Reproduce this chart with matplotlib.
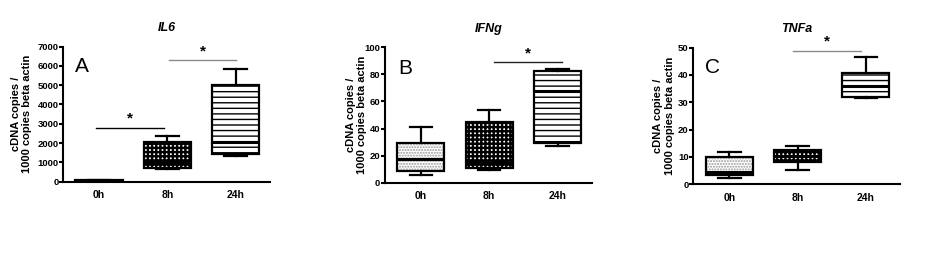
import matplotlib
matplotlib.use('Agg')
import matplotlib.pyplot as plt

plt.rcParams['font.family'] = ['Liberation Sans', 'DejaVu Sans']

groups = ['0h', '8h', '24h']
genes = ['IL6', 'IFNg', 'TNFa']
letters = ['A', 'B', 'C']

# box stats per gene: whisker low, q1, median, q3, whisker high (0h, 8h, 24h)
il6_low = [10, 650, 1330]
il6_q1 = [20, 700, 1430]
il6_med = [40, 1000, 2050]
il6_q3 = [70, 2040, 5000]
il6_high = [90, 2380, 5850]

ifng_low = [6, 9.5, 27]
ifng_q1 = [8.5, 11, 29.5]
ifng_med = [17.5, 15, 68]
ifng_q3 = [29.5, 45, 82.7]
ifng_high = [41, 54, 83.7]

tnfa_low = [2.2, 5.1, 31.5]
tnfa_q1 = [3.4, 8.1, 32]
tnfa_med = [4.6, 10.5, 36]
tnfa_q3 = [10, 12.6, 40.7]
tnfa_high = [11.9, 14, 46.7]

ymax = [7000, 100, 50]
ystep = [1000, 20, 10]

# significance bars: (x start, x end, y)
sig_A = [(0.95, 1.95, 2780), (2.03, 3.0, 6300)]
sig_B = [(2.07, 3.07, 89)]
sig_C = [(1.93, 2.93, 48.8)]
sig_colors = [['black', '#8a8a8a'], ['#222222'], ['#8a8a8a']]

data = [
    (il6_low, il6_q1, il6_med, il6_q3, il6_high),
    (ifng_low, ifng_q1, ifng_med, ifng_q3, ifng_high),
    (tnfa_low, tnfa_q1, tnfa_med, tnfa_q3, tnfa_high),
]
sigs = [sig_A, sig_B, sig_C]

fig = plt.figure(figsize=(9.26, 2.54), dpi=100)
rects = [
    [0.068, 0.2846, 0.2235, 0.532],
    [0.4156, 0.2807, 0.2234, 0.533],
    [0.7487, 0.2744, 0.2232, 0.538],
]
ylab_x = [-0.15, -0.085, -0.09]
letter_pos = [(0.058, 0.85), (0.067, 0.845), (0.057, 0.857)]

hatches = ['......', '++++', '---']
hatch_cols = ['#9a9a9a', 'black', 'black']
width = 0.69
pos = [1, 2, 3]

for i in range(3):
    ax = fig.add_axes(rects[i])
    low, q1, med, q3, high = data[i]
    stats = []
    for j in range(3):
        stats.append(dict(whislo=low[j], q1=q1[j], med=med[j], q3=q3[j],
                          whishi=high[j], fliers=[], label=groups[j]))
    # hatched fills
    for j in range(3):
        poly = ax.fill_between([pos[j] - width / 2, pos[j] + width / 2], q1[j], q3[j],
                               facecolor='white', edgecolor=hatch_cols[j],
                               hatch=hatches[j], linewidth=0, zorder=1)
        if hasattr(poly, 'set_hatch_linewidth'):
            poly.set_hatch_linewidth(1.7 if j == 1 else 1.0)
    ax.bxp(stats, positions=pos, widths=width, showfliers=False,
           capwidths=0.33, patch_artist=True,
           boxprops=dict(facecolor='none', edgecolor='black', linewidth=1.6),
           whiskerprops=dict(color='black', linewidth=1.6),
           capprops=dict(color='black', linewidth=1.6),
           medianprops=dict(color='black', linewidth=2.2),
           zorder=2)
    ax.set_xlim(0.473, 3.5)
    ax.set_ylim(0, ymax[i])
    ax.set_yticks(range(0, ymax[i] + 1, ystep[i]))
    ax.spines['top'].set_visible(False)
    ax.spines['right'].set_visible(False)
    ax.spines['left'].set_linewidth(1.5)
    ax.spines['bottom'].set_linewidth(1.5)
    ax.tick_params(axis='y', length=3, width=1.5, labelsize=6.8, pad=0.3)
    ax.tick_params(axis='x', length=0, labelsize=7.5, pad=6)
    for lab in ax.get_xticklabels() + ax.get_yticklabels():
        lab.set_fontweight('bold')
    ax.set_ylabel('cDNA copies /\n1000 copies beta actin', fontsize=8,
                  fontweight='bold', linespacing=1.15)
    ax.yaxis.set_label_coords(ylab_x[i], 0.5)
    ax.set_title(genes[i], fontsize=9, fontweight='bold', fontstyle='italic', pad=11)
    ax.text(letter_pos[i][0], letter_pos[i][1], letters[i], transform=ax.transAxes,
            fontsize=15, ha='left', va='center')
    for k, (x0, x1, y) in enumerate(sigs[i]):
        ax.plot([x0, x1], [y, y], color=sig_colors[i][k], linewidth=1.0, clip_on=False)
        ax.annotate('*', xy=((x0 + x1) / 2, y), xytext=(0, 1.5),
                    textcoords='offset points', ha='center', va='bottom',
                    fontsize=11, fontweight='bold', annotation_clip=False)

fig.savefig('out.png', dpi=100)
